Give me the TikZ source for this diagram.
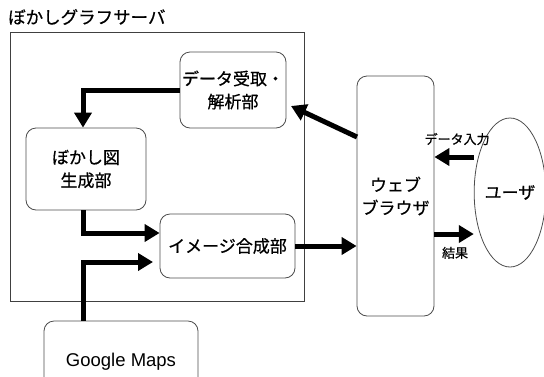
\documentclass[tikz,border=0pt]{standalone}
\usepackage{fontspec}
\setmainfont{Noto Sans CJK JP}[FakeBold=0.6]
\newfontfamily\latinfont{Liberation Sans}
\usetikzlibrary{arrows.meta, shapes.geometric}

\tikzset{
  box/.style={draw=black!70, line width=0.8pt, rounded corners=10pt, align=center,
    font=\fontsize{17}{23}\selectfont, inner sep=0pt},
  flow/.style={line width=5pt, -{Triangle[length=15pt,width=17pt]}},
  lbl/.style={font=\fontsize{13}{15}\selectfont}
}

\begin{document}
\begin{tikzpicture}[x=1pt, y=-1pt]
        \useasboundingbox (0,0) rectangle (544,376);

        % server frame and its title
        \draw[black!75, line width=0.8pt] (10,32) rectangle (304,301);
        \node[anchor=west, font=\fontsize{17.5}{20}\selectfont, inner sep=0pt] (title) at (8,17) {ぼかしグラフサーバ};

        % boxes
        \node[box, minimum width=106pt, minimum height=76pt] (recv) at (233,90) {データ受取・\\解析部};
        \node[box, minimum width=120pt, minimum height=82pt] (blur) at (86,169) {ぼかし図\\生成部};
        \node[box, minimum width=135pt, minimum height=64pt] (merge) at (227.5,246) {イメージ合成部};
        \node[box, minimum width=77pt, minimum height=240pt] (browser) at (395.5,196) {ウェブ\\ブラウザ};
        \node[box, minimum width=154pt, minimum height=82pt, font=\latinfont\fontsize{18.5}{22}\selectfont] (gmaps) at (121,362) {Google Maps};
        \node[draw=black!70, line width=0.8pt, ellipse, minimum width=66pt, minimum height=149pt, inner sep=0pt,
          font=\fontsize{17}{23}\selectfont] (user) at (510,192.5) {ユーザ};

        % bends and loose ends
        \coordinate (bendA) at (83,90);
        \coordinate (bendB) at (83,233);
        \coordinate (bendC) at (83,262);
        \coordinate (tipC) at (153,262);
        \coordinate (outB) at (357,137);
        \coordinate (inA) at (291,106);

        % arrows
        \draw[flow] (recv.west |- bendA) -- (bendA) -- (bendA |- blur.north);
        \draw[flow] (bendB |- blur.south) -- (bendB) -- (merge.west |- bendB);
        \draw[flow] (bendC |- gmaps.north) -- (bendC) -- (tipC);
        \draw[flow] (merge.east) -- (browser.west |- merge.east);
        \draw[flow] (outB) -- (inA);
        \draw[flow] (user.west |- 0,157) -- (browser.east |- 0,157)
            node[lbl, midway, above=6pt, xshift=3pt] (inlbl) {データ入力};
        \draw[flow] (browser.east |- 0,234) -- (user.west |- 0,234)
            node[lbl, midway, below=7pt, xshift=1pt] (outlbl) {結果};
    \end{tikzpicture}
\end{document}
